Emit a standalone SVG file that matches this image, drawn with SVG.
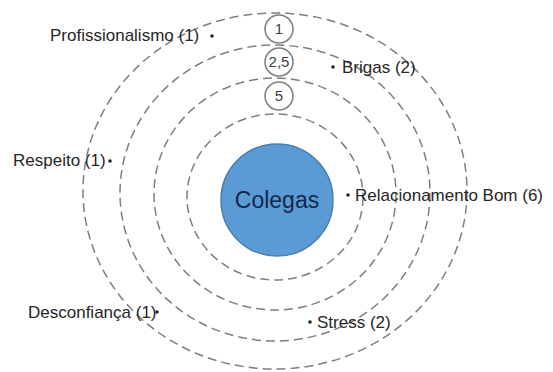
<svg xmlns="http://www.w3.org/2000/svg" width="553" height="372" viewBox="0 0 553 372">
<style>
.ring{fill:none;stroke:#7f7f7f;stroke-width:1.5;stroke-dasharray:9 5}
.small{fill:#ffffff;stroke:#7f7f7f;stroke-width:1.5}
.num{font-family:"Liberation Sans",Arial,sans-serif;font-size:15px;fill:#404040;text-anchor:middle}
.lbl{font-family:"Liberation Sans",Arial,sans-serif;font-size:17px;fill:#262626}
.dot{fill:#262626}
</style>
<rect width="553" height="372" fill="#ffffff"/>
<g id="rings">
<ellipse class="ring" cx="275" cy="191" rx="192" ry="178"/>
<ellipse class="ring" cx="275" cy="193" rx="155" ry="148"/>
<ellipse class="ring" cx="275" cy="194" rx="121" ry="116"/>
<ellipse class="ring" cx="275" cy="197" rx="88" ry="83"/>
</g>
<g id="colegas">
<circle cx="277" cy="200" r="56" fill="#5b9bd5" stroke="#4a7fb0" stroke-width="1.5"/>
<text x="277" y="208" font-family="'Liberation Sans',Arial,sans-serif" font-size="23" fill="#14284b" text-anchor="middle">Colegas</text>
</g>
<g id="level1">
<circle class="small" cx="279" cy="29" r="14"/>
<text class="num" x="279" y="34">1</text>
</g>
<g id="level25">
<circle class="small" cx="279" cy="62" r="14"/>
<text class="num" x="279" y="67">2,5</text>
</g>
<g id="level5">
<circle class="small" cx="279" cy="96" r="14"/>
<text class="num" x="279" y="101">5</text>
</g>
<g id="profissionalismo">
<text class="lbl" x="50" y="41">Profissionalismo (1)</text>
<circle class="dot" cx="212" cy="36" r="1.8"/>
</g>
<g id="brigas">
<circle class="dot" cx="333" cy="67" r="1.8"/>
<text class="lbl" x="342" y="73">Brigas (2)</text>
</g>
<g id="respeito">
<text class="lbl" x="13" y="166">Respeito (1)</text>
<circle class="dot" cx="110" cy="161" r="1.8"/>
</g>
<g id="relacionamento">
<circle class="dot" cx="348" cy="195" r="1.8"/>
<text class="lbl" x="355" y="201">Relacionamento Bom (6)</text>
</g>
<g id="desconfianca">
<text class="lbl" x="28" y="318">Desconfiança (1)</text>
<circle class="dot" cx="157" cy="312" r="1.8"/>
</g>
<g id="stress">
<circle class="dot" cx="310" cy="322" r="1.8"/>
<text class="lbl" x="317" y="328">Stress (2)</text>
</g>
</svg>
